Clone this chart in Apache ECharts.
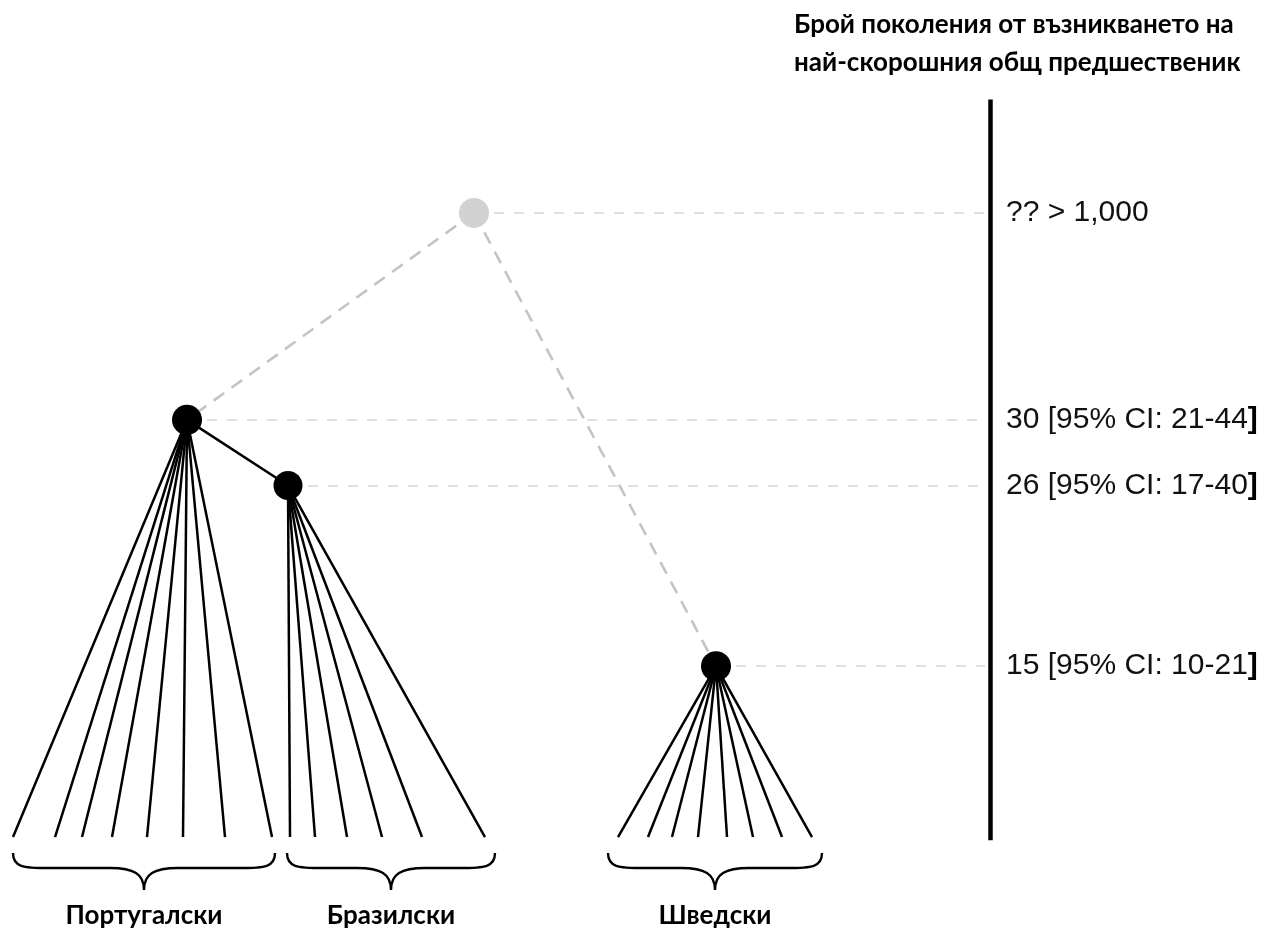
<!DOCTYPE html>
<html>
<head>
<meta charset="utf-8">
<style>
  html, body { margin: 0; padding: 0; background: #ffffff; }
  #chart { width: 1265px; height: 929px; }
</style>
<script src="https://cdn.jsdelivr.net/npm/echarts@6/dist/echarts.min.js"></script>
</head>
<body>
<div id="chart"></div>
<script>
// Clades and the horizontal positions of their sampled tips (layout units along x)
const cladeNames = ['Португалски', 'Бразилски', 'Шведски'];
const portugueseTips = [13, 55, 82, 112, 147, 183, 225, 272];
const brazilianTips = [290, 315, 347, 382, 422, 485];
const swedishTips = [618, 648, 672, 698, 727, 753, 782, 812];
const cladeTips = [portugueseTips, brazilianTips, swedishTips];

// Most recent common ancestor of each clade: generations ago with 95% CI
const mrcaGenerations = [30, 26, 15];
const mrcaLow = [21, 17, 10];
const mrcaHigh = [44, 40, 21];
const mrcaX = [187, 288, 716];

// Deep ancestor shared by Portuguese and Swedish lineages (age unknown, > 1,000)
const rootLabel = '?? > 1,000';
const rootX = 474;
const rootLevel = 42.6;      // drawn schematically, the true depth is off the scale

// Tips sit at the present-day level of the drawing
const tipLevel = 4.6;

// Extent of each clade brace along x
const braceRanges = [[13, 275], [287, 495], [608, 822]];

// Generation scale bar on the right
const scaleX = 990;
const scaleTop = 49.5;
const scaleBottom = 4.4;
const guideEndX = 985;

const titleText = 'Брой поколения от възникването на\nнай-скорошния общ предшественик';

// ---------- build series data ----------
const tipEdges = [];
cladeTips.forEach((tips, i) => {
  tips.forEach(tx => {
    tipEdges.push({ coords: [[mrcaX[i], mrcaGenerations[i]], [tx, tipLevel]] });
  });
});

// Brazilian clade nests inside the Portuguese one
const solidEdges = [
  { coords: [[mrcaX[0], mrcaGenerations[0]], [mrcaX[1], mrcaGenerations[1]]] }
];
// Uncertain links to the deep ancestor
const dashedEdges = [
  { coords: [[rootX, rootLevel], [mrcaX[0], mrcaGenerations[0]]] },
  { coords: [[rootX, rootLevel], [mrcaX[2], mrcaGenerations[2]]] }
];

const guideLines = [{ coords: [[rootX, rootLevel], [guideEndX, rootLevel]] }]
  .concat(mrcaGenerations.map((g, i) => ({ coords: [[mrcaX[i], g], [guideEndX, g]] })));

const scaleLabels = [{ value: [scaleX, rootLevel], text: rootLabel }]
  .concat(mrcaGenerations.map((g, i) => ({
    value: [scaleX, g],
    text: g + ' [95% CI: ' + mrcaLow[i] + '-' + mrcaHigh[i] + '{b|]}'
  })));

const braceData = braceRanges.map((r, i) => [r[0], r[1], tipLevel, i]);

const chart = echarts.init(document.getElementById('chart'), null, { renderer: 'canvas' });

chart.setOption({
  backgroundColor: '#ffffff',
  animation: false,
  title: {
    text: titleText,
    left: 789,
    top: 1,
    textStyle: {
      fontFamily: 'Lato',
      fontWeight: 'bold',
      fontSize: 26,
      lineHeight: 38,
      color: '#000000'
    }
  },
  grid: { left: 0, right: 0, top: 1, height: 928 },
  xAxis: { type: 'value', min: 0, max: 1265, show: false },
  yAxis: { type: 'value', min: -1, max: 55.5, show: false },
  series: [
    {
      // faint dashed guides from each ancestor to the scale bar
      type: 'lines',
      coordinateSystem: 'cartesian2d',
      polyline: false,
      silent: true,
      z: 1,
      lineStyle: { color: '#d9d9d9', width: 1.6, type: [10, 10], opacity: 1 },
      data: guideLines
    },
    {
      type: 'lines',
      coordinateSystem: 'cartesian2d',
      silent: true,
      z: 2,
      lineStyle: { color: '#c4c4c4', width: 2.6, type: [13, 9], opacity: 1 },
      data: dashedEdges
    },
    {
      type: 'lines',
      coordinateSystem: 'cartesian2d',
      silent: true,
      z: 3,
      lineStyle: { color: '#000000', width: 2.5, opacity: 1 },
      data: tipEdges.concat(solidEdges)
    },
    {
      // vertical generation scale bar
      type: 'lines',
      coordinateSystem: 'cartesian2d',
      silent: true,
      z: 3,
      lineStyle: { color: '#000000', width: 4.5, opacity: 1, cap: 'butt' },
      data: [{ coords: [[scaleX, scaleTop], [scaleX, scaleBottom]] }]
    },
    {
      // ancestor nodes
      type: 'scatter',
      silent: true,
      z: 5,
      symbol: 'circle',
      symbolSize: 30,
      itemStyle: { opacity: 1 },
      data: [
        { value: [rootX, rootLevel], itemStyle: { color: '#d2d2d2', opacity: 1 } }
      ].concat(mrcaGenerations.map((g, i) => ({
        value: [mrcaX[i], g],
        symbolSize: i === 1 ? 29 : 30,
        itemStyle: { color: '#000000', opacity: 1 }
      })))
    },
    {
      // estimates printed beside the scale bar
      type: 'scatter',
      silent: true,
      z: 5,
      symbolSize: 0,
      itemStyle: { opacity: 1 },
      data: scaleLabels.map(d => ({ value: d.value, text: d.text })),
      label: {
        show: true,
        position: 'right',
        distance: 16,
        formatter: p => p.data.text,
        fontFamily: 'Liberation Sans',
        fontSize: 30,
        color: '#111111',
        opacity: 1,
        rich: {
          b: { fontFamily: 'Liberation Sans', fontSize: 30, fontWeight: 'bold', color: '#000000' }
        }
      }
    },
    {
      // curly braces under each clade with its name
      type: 'custom',
      silent: true,
      z: 4,
      clip: false,
      data: braceData,
      renderItem: function (params, api) {
        const a = api.coord([api.value(0), api.value(2)]);
        const b = api.coord([api.value(1), api.value(2)]);
        const x1 = a[0], x2 = b[0];
        const y0 = a[1] + 16;
        const cx = (x1 + x2) / 2;
        const d = 15, tip = 37;
        const path =
          'M' + x1 + ',' + y0 +
          ' C' + x1 + ',' + (y0 + d - 1) + ' ' + (x1 + 10) + ',' + (y0 + d) + ' ' + (x1 + 36) + ',' + (y0 + d) +
          ' L' + (cx - 34) + ',' + (y0 + d) +
          ' C' + (cx - 10) + ',' + (y0 + d) + ' ' + cx + ',' + (y0 + d + 6) + ' ' + cx + ',' + (y0 + tip) +
          ' C' + cx + ',' + (y0 + d + 6) + ' ' + (cx + 10) + ',' + (y0 + d) + ' ' + (cx + 34) + ',' + (y0 + d) +
          ' L' + (x2 - 36) + ',' + (y0 + d) +
          ' C' + (x2 - 10) + ',' + (y0 + d) + ' ' + x2 + ',' + (y0 + d - 1) + ' ' + x2 + ',' + y0;
        return {
          type: 'group',
          children: [
            {
              type: 'path',
              shape: { pathData: path },
              style: { fill: null, stroke: '#000000', lineWidth: 2.4 }
            },
            {
              type: 'text',
              x: cx,
              y: y0 + tip + 26,
              style: {
                text: cladeNames[api.value(3)],
                fontFamily: 'Lato',
                fontWeight: 'bold',
                fontSize: 26,
                fill: '#000000',
                align: 'center',
                verticalAlign: 'middle'
              }
            }
          ]
        };
      }
    }
  ]
});
</script>
</body>
</html>
